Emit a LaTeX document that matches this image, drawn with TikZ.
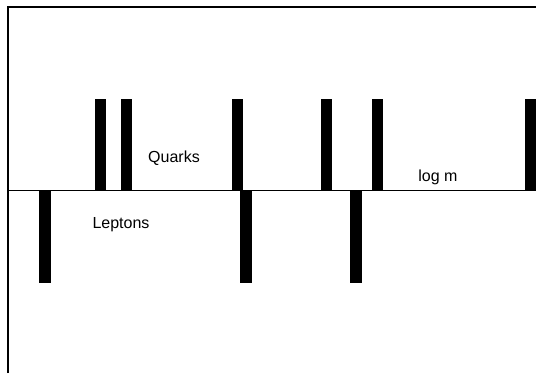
\documentclass[tikz,border=0pt]{standalone}
\usepackage{fontspec}
\setmainfont{Liberation Sans}
\tikzset{
	bar/.style={fill=black, draw=none},
	lbl/.style={inner sep=0pt, font=\fontsize{16}{18}\selectfont}
}
\begin{document}
\begin{tikzpicture}[x=1pt, y=-1pt]
		\useasboundingbox ( 0, 0 ) rectangle ( 536, 373 );

		% рамка и ось
		\draw [line width=1.4pt] ( 8, 373 ) -- ( 8, 7 ) -- ( 536, 7 );
		\draw [line width=0.9pt] ( 8, 190 ) -- ( 536, 190 );

		% кварки
		\fill [bar] (  95, 99 ) rectangle ( 106, 190 );
		\fill [bar] ( 121, 99 ) rectangle ( 132, 190 );
		\fill [bar] ( 232, 99 ) rectangle ( 243, 190 );
		\fill [bar] ( 321, 99 ) rectangle ( 332, 190 );
		\fill [bar] ( 372, 99 ) rectangle ( 383, 190 );
		\fill [bar] ( 525, 99 ) rectangle ( 536, 190 );

		% лептоны
		\fill [bar] (  39, 190 ) rectangle (  51, 283 );
		\fill [bar] ( 240, 190 ) rectangle ( 252, 283 );
		\fill [bar] ( 350, 190 ) rectangle ( 362, 283 );

		% подписи
		\node [lbl] (quarks) at ( 174, 158 ) {Quarks};
		\node [lbl] (leptons) at ( 121, 225 ) {Leptons};
		\node [lbl] (logm) at ( 438, 177 ) {log m};
	\end{tikzpicture}
\end{document}
